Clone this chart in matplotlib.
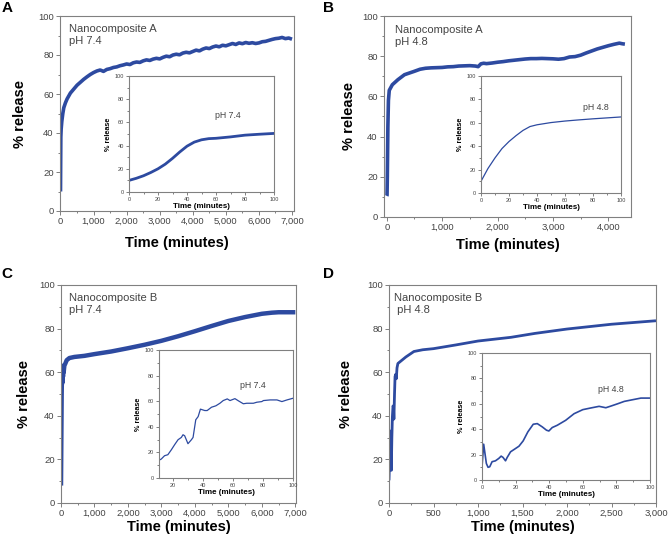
import matplotlib
matplotlib.use("Agg")
import matplotlib.pyplot as plt
from matplotlib.ticker import MultipleLocator, FuncFormatter

plt.rcParams['font.family'] = ['Liberation Sans', 'DejaVu Sans']

BLUE = '#2d4aa0'
GRAY = '#808080'
TXT = '#444444'

# ---------------- data ----------------
# Panel A main (Nanocomposite A, pH 7.4)
a_t = [0, 5, 10, 20, 40, 70, 100, 150, 200, 300, 400, 500, 600, 700, 800, 900,
       1000, 1100, 1200, 1300, 1400, 1500, 1600, 1700, 1800, 1900, 2000, 2100, 2200,
       2300, 2400, 2500, 2600, 2700, 2800, 2900, 3000, 3100, 3200, 3300, 3400, 3500,
       3600, 3700, 3800, 3900, 4000, 4100, 4200, 4300, 4400, 4500, 4600, 4700, 4800,
       4900, 5000, 5100, 5200, 5300, 5400, 5500, 5600, 5700, 5800, 5900, 6000, 6100,
       6200, 6300, 6400, 6500, 6600, 6700, 6800, 6900, 7000]
a_v = [10, 25, 38, 42, 46, 50, 53, 55.5, 57.5, 60.5, 62.5, 64.5, 66, 67.5, 68.8, 70,
       71.0, 71.8, 72.3, 71.6, 72.6, 73.0, 73.6, 73.9, 74.5, 74.9, 75.4, 75.1, 76.0,
       76.4, 76.2, 77.0, 77.5, 77.2, 77.9, 78.3, 78.0, 78.8, 79.4, 79.1, 80.0, 80.4,
       80.1, 81.0, 81.4, 81.1, 81.8, 82.5, 82.1, 83.0, 83.6, 83.3, 84.1, 84.6, 84.2,
       85.0, 84.7, 85.3, 85.9, 85.4, 86.2, 85.8, 86.4, 86.0, 86.3, 85.9, 86.2, 86.8,
       87.0, 87.5, 88.0, 88.4, 88.6, 89.0, 88.4, 88.7, 88.1]
# Panel A inset
ai_t = [0, 5, 10, 15, 20, 25, 30, 35, 40, 45, 50, 55, 60, 70, 80, 90, 100]
ai_v = [10, 11.8, 14, 16.8, 20, 24, 29, 34.5, 39.5, 43, 45, 46, 46.3, 47.5, 49, 49.8, 50.5]

# Panel B main (Nanocomposite A, pH 4.8)
b_t = [0, 5, 10, 20, 30, 45, 100, 200, 320, 500, 600, 700, 800, 900, 1000, 1100,
       1200, 1300, 1400, 1500, 1600, 1650, 1700, 1750, 1800, 1900, 2000, 2100, 2200,
       2300, 2400, 2500, 2600, 2700, 2800, 2900, 3000, 3100, 3200, 3300, 3400, 3500,
       3600, 3700, 3800, 3900, 4000, 4100, 4200, 4250, 4300]
b_v = [10.5, 10.8, 20, 45, 58, 63, 65.8, 68.3, 70.8, 72.5, 73.5, 74, 74.2, 74.3, 74.4, 74.7,
       74.8, 75.1, 75.2, 75.3, 75.1, 74.8, 76.2, 76.5, 76.3, 76.6, 77, 77.3, 77.7,
       78, 78.3, 78.6, 78.8, 78.8, 78.9, 78.8, 78.7, 78.5, 78.8, 79.6, 79.8, 80.5,
       81.6, 82.6, 83.6, 84.4, 85.2, 85.9, 86.5, 86.2, 86.0]
# Panel B inset
bi_t = [0, 5, 10, 15, 20, 25, 30, 35, 40, 50, 60, 70, 80, 90, 100]
bi_v = [10, 21, 30, 38, 44, 49, 53.5, 56.8, 58.3, 60.2, 61.5, 62.5, 63.4, 64.2, 65]

# Panel C main (Nanocomposite B, pH 7.4)
c_t = [0, 10, 20, 30, 40, 50, 60, 70, 80, 100, 130, 170, 250, 400, 700, 1000, 1500,
       2000, 2500, 3000, 3500, 4000, 4500, 5000, 5500, 6000, 6300, 6500, 7000]
c_v = [8, 30, 50, 60, 55, 62, 58, 63, 60, 63, 64, 65.5, 66.5, 67, 67.5, 68.3, 69.5,
       71, 72.6, 74.4, 76.5, 78.8, 81.2, 83.5, 85.3, 86.8, 87.3, 87.5, 87.5]
# Panel C inset
ci_t = [10.6, 12.2, 14.4, 16.6, 18.9, 21.1, 23.4, 25.6, 26.7, 27.8, 30, 32.3, 33.4,
        35.2, 36.8, 38.3, 41.2, 42.8, 45.7, 48.6, 51.3, 53.5, 56.2, 58, 61.3, 63.6,
        66.9, 69.2, 73.6, 75.9, 79.2, 80.3, 84.8, 89.3, 92.6, 96, 100]
ci_v = [13.8, 14.8, 17.4, 18.2, 22, 26, 29.9, 31.7, 33.8, 33, 26.8, 29.9, 31.7,
        45.5, 48, 53.8, 52.7, 52.7, 55.3, 56.4, 58.4, 60.5, 61.8, 60.5, 62, 60.3,
        58, 58.4, 58.4, 59.2, 59.7, 60.5, 61, 61, 59.7, 61, 62.3]

# Panel D main (Nanocomposite B, pH 4.8)
d_t = [0, 10, 19, 26, 32, 38, 45, 50, 55, 62, 68, 75, 82, 90, 100, 130, 190, 280,
       380, 500, 750, 1000, 1370, 1640, 2000, 2500, 3000]
d_v = [10.4, 25, 33, 15, 30, 39.5, 44.5, 44, 38.5, 50, 58, 59, 57, 62, 64, 65, 67,
       69.5, 70.3, 70.8, 72.5, 74.3, 76, 77.8, 79.8, 82, 83.6]
# Panel D inset
di_t = [0, 1, 2.6, 3.6, 4.6, 6, 8, 10, 11.4, 12.5, 14, 15, 17, 19.4, 22, 24.5, 27.3,
        30.5, 32.9, 35.9, 38.4, 39.8, 41.8, 44.8, 49.8, 54.8, 60, 64.7, 69.7, 73.7,
        76.7, 80.7, 84.7, 89.6, 94.6, 100]
di_v = [10.4, 28.2, 13, 10, 10.4, 14.4, 15.1, 17, 18.8, 17.8, 15.1, 17.8, 22.2, 24.3,
        26.6, 30.8, 37.9, 43.9, 44.4, 41.8, 39.2, 38.6, 41.3, 43.1, 47, 52.2, 55.4,
        56.7, 58, 56.9, 58.2, 60, 61.9, 63.2, 64.5, 64.5]

# ---------------- figure ----------------
W, H = 668, 541
fig = plt.figure(figsize=(W / 100, H / 100), dpi=100)


def rect(l, t, r, b):
    return [l / W, (H - b) / H, (r - l) / W, (b - t) / H]


comma = FuncFormatter(lambda v, p: f'{v:,.0f}')


def style(ax, xmaj, xmin, fs, ticklen):
    for s in ax.spines.values():
        s.set_color(GRAY)
        s.set_linewidth(0.8)
    ax.xaxis.set_major_locator(MultipleLocator(xmaj))
    ax.xaxis.set_minor_locator(MultipleLocator(xmin))
    ax.yaxis.set_major_locator(MultipleLocator(20))
    ax.yaxis.set_minor_locator(MultipleLocator(10))
    ax.tick_params(which='both', direction='out', top=False, right=False,
                   color=GRAY, width=0.7, labelsize=fs, labelcolor=TXT, pad=1.5)
    ax.tick_params(which='major', length=ticklen)
    ax.tick_params(which='minor', length=ticklen * 0.6)


def main_panel(r, t, v, xlim, xmaj, xmin, lw, title, tpos, xpad, ypad):
    ax = fig.add_axes(rect(*r))
    ax.plot(t, v, color=BLUE, lw=lw, solid_capstyle='butt', solid_joinstyle='round')
    ax.set_xlim(*xlim)
    ax.set_ylim(0, 100)
    style(ax, xmaj, xmin, 6.8, 3)
    ax.xaxis.set_major_formatter(comma)
    ax.set_xlabel('Time (minutes)', fontsize=10.5, fontweight='bold', labelpad=xpad)
    ax.set_ylabel('% release', fontsize=10.5, fontweight='bold', labelpad=ypad)
    ax.text(tpos[0], tpos[1], title, transform=ax.transAxes, fontsize=8,
            color=TXT, va='top', ha='left', linespacing=1.3)
    return ax


def inset_panel(r, t, v, xlim, lw, label, lpos):
    ax = fig.add_axes(rect(*r))
    ax.plot(t, v, color=BLUE, lw=lw)
    ax.set_xlim(*xlim)
    ax.set_ylim(0, 100)
    style(ax, 20, 10, 4, 2)
    ax.set_xlabel('Time (minutes)', fontsize=5.8, fontweight='bold', labelpad=0.5)
    ax.set_ylabel('% release', fontsize=5.2, fontweight='bold', labelpad=2)
    ax.text(lpos[0], lpos[1], label, fontsize=6.3, color=TXT, ha='center', va='center')
    return ax


# A
main_panel((60, 16, 294, 211), a_t, a_v, (-15, 7060), 1000, 500, 2.6,
           'Nanocomposite A\npH 7.4', (0.04, 0.96), 7, 8)
inset_panel((129, 76, 274, 192), ai_t, ai_v, (0, 100), 2.0, 'pH 7.4', (68, 66))
# B
main_panel((384, 16, 631, 217), b_t, b_v, (-50, 4410), 1000, 500, 2.6,
           'Nanocomposite A\npH 4.8', (0.045, 0.955), 4.5, 4)
inset_panel((481, 76, 621, 193), bi_t, bi_v, (0, 100), 0.9, 'pH 4.8', (82, 73.5))
# C
main_panel((61, 285, 296, 503), c_t, c_v, (0, 7020), 1000, 500, 3.2,
           'Nanocomposite B\npH 7.4', (0.035, 0.965), 1.5, 6)
inset_panel((159, 350, 293, 478), ci_t, ci_v, (10.7, 100), 0.9, 'pH 7.4', (73, 72))
# D
main_panel((389, 285, 656, 503), d_t, d_v, (0, 3000), 500, 250, 2.0,
           'Nanocomposite B\n pH 4.8', (0.02, 0.965), 1.5, 10)
inset_panel((482, 353, 650, 480), di_t, di_v, (0, 100), 1.2, 'pH 4.8', (77, 71.4))

# panel letters
for letter, x, y in [('A', 7, 8), ('B', 328, 8), ('C', 7, 274), ('D', 328, 274)]:
    fig.text(x / W, 1 - y / H, letter, fontsize=11, fontweight='bold',
             ha='center', va='center')

fig.savefig('out.png', dpi=100)
